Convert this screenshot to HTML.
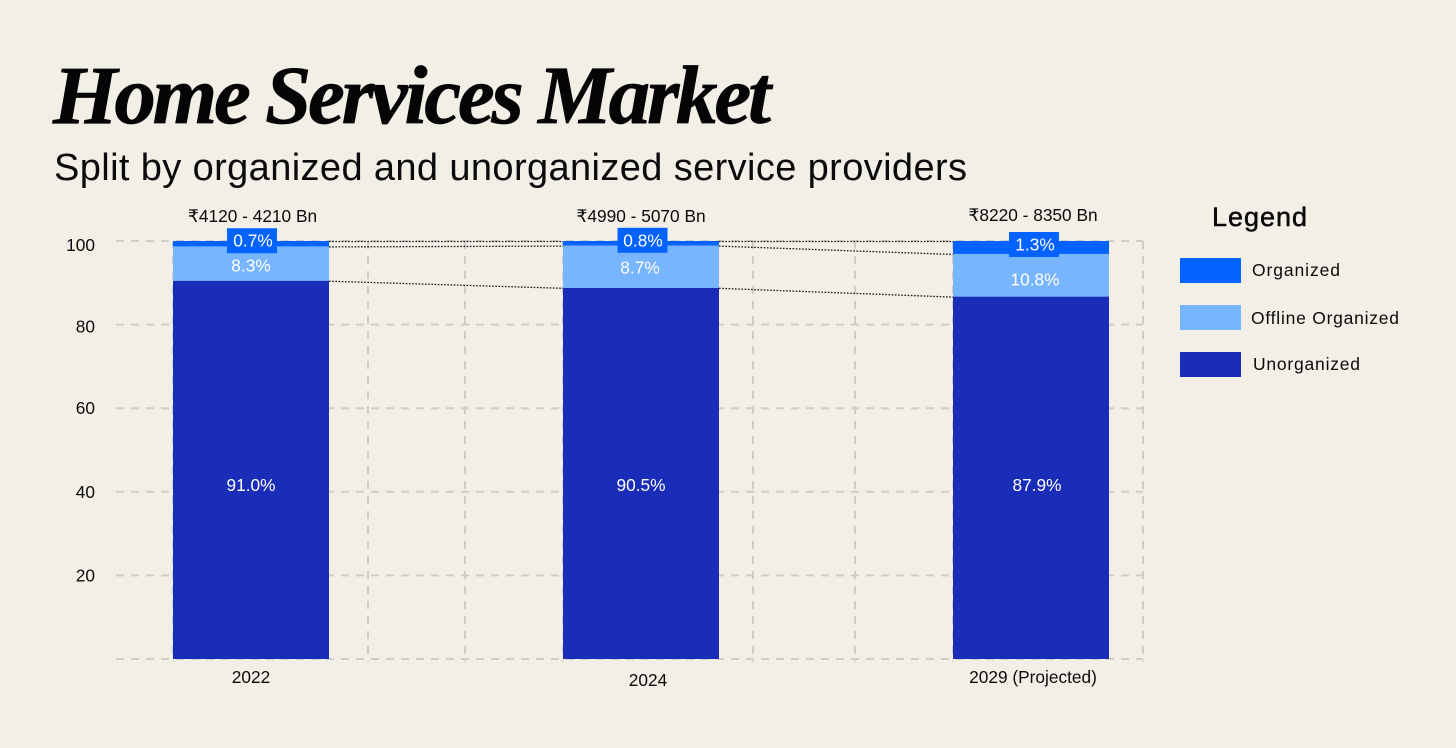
<!DOCTYPE html>
<html lang="en">
<head>
<meta charset="utf-8">
<title>Home Services Market</title>
<style>
  html, body { margin: 0; padding: 0; background: #f2efe7; }
  body { width: 1456px; height: 748px; overflow: hidden; }
  svg { display: block; }
  text { font-family: "Liberation Sans", "DejaVu Sans", sans-serif; fill: #0b0b0b; }
  .chart-title { font-family: "Liberation Serif", serif; font-style: italic; font-weight: 700; font-size: 83px; fill: #050505; stroke: #050505; stroke-width: .7px; }
  .chart-subtitle { font-size: 38px; }
  .small { font-size: 17.3px; }
  .legend-label { font-size: 17.5px; }
  .value { font-size: 17.3px; fill: #ffffff; text-anchor: middle; dominant-baseline: central; }
  .legend-title { font-size: 27px; stroke: #0b0b0b; stroke-width: .5px; }
  .grid { stroke: #cfcdc7; stroke-width: 2; stroke-dasharray: 8 7; fill: none; }
  .connector { stroke: #151515; stroke-width: 1.3; stroke-dasharray: 1.6 1.6; fill: none; }
</style>
</head>
<body>
<svg id="chart" width="1456" height="748" viewBox="0 0 1456 748" xmlns="http://www.w3.org/2000/svg">
  <rect x="0" y="0" width="1456" height="748" fill="#f2efe7"></rect>
  <text class="chart-title" x="53" y="123" textLength="718" lengthAdjust="spacing">Home Services Market</text>
  <text class="chart-subtitle" x="54" y="180" textLength="913" lengthAdjust="spacing">Split by organized and unorganized service providers</text>
  <g id="grid-layer"></g>
  <g id="connector-layer"></g>
  <g id="bar-layer"></g>
  <g id="label-layer"></g>

  <g>
    <text class="legend-title" x="1212" y="226" textLength="95" lengthAdjust="spacing">Legend</text>
    <g>
      <rect x="1180" y="258" width="61" height="25" fill="#0462ff"></rect>
      <text class="legend-label" x="1252" y="276" textLength="88" lengthAdjust="spacing">Organized</text>
    </g>
    <g>
      <rect x="1180" y="305" width="61" height="25" fill="#77b5ff"></rect>
      <text class="legend-label" x="1251" y="324" textLength="148" lengthAdjust="spacing">Offline Organized</text>
    </g>
    <g>
      <rect x="1180" y="352" width="61" height="25" fill="#1a2db8"></rect>
      <text class="legend-label" x="1253" y="370" textLength="107" lengthAdjust="spacing">Unorganized</text>
    </g>
  </g>
</svg>
<script>
// Chart data: segment heights, plus the printed labels.
const categories = ['2022', '2024', '2029 (Projected)'];
const unorganizedValues = [90.5, 88.8, 86.7];
const offlineValues = [8.2, 10.1, 10.2];
const organizedValues = [1.3, 1.1, 3.1];
const totalLabels = ['₹4120 - 4210 Bn', '₹4990 - 5070 Bn', '₹8220 - 8350 Bn'];
const unorganizedLabels = ['91.0%', '90.5%', '87.9%'];
const offlineLabels = ['8.3%', '8.7%', '10.8%'];
const organizedLabels = ['0.7%', '0.8%', '1.3%'];
const yTicks = [100, 80, 60, 40, 20];

// Axis functions
const PLOT_BOTTOM = 659;
const PLOT_TOP = 241;
function yScale(v) { return PLOT_BOTTOM - (v / 100) * (PLOT_BOTTOM - PLOT_TOP); }
const BAR_WIDTH = 156;
function xCenter(i) { return 251 + i * 390; }
function xLeft(i) { return xCenter(i) - BAR_WIDTH / 2; }
function xRight(i) { return xCenter(i) + BAR_WIDTH / 2; }

const NS = 'http://www.w3.org/2000/svg';
function make(tag, attrs, parent, content) {
  const el = document.createElementNS(NS, tag);
  for (const k in attrs) el.setAttribute(k, attrs[k]);
  if (content !== undefined) el.textContent = content;
  parent.appendChild(el);
  return el;
}

const gridLayer = document.getElementById('grid-layer');
const connectorLayer = document.getElementById('connector-layer');
const barLayer = document.getElementById('bar-layer');
const labelLayer = document.getElementById('label-layer');

// Horizontal gridlines
[100, 80, 60, 40, 20, 0].forEach(function (t) {
  const line = make('line', { x1: 116, x2: 1143, y1: yScale(t), y2: yScale(t), class: 'grid' }, gridLayer);
  
  
});

// Vertical gridlines
[173, 368, 465, 563, 753, 855, 953, 1143].forEach(function (x) {
  const line = make('line', { x1: x, x2: x, y1: PLOT_TOP, y2: PLOT_BOTTOM + 3, class: 'grid' }, gridLayer);
  
  
});

// Y tick labels (hand-placed offsets follow the reference's slight misalignment)
const tickNudge = [4, 2, 0, 0, 0];
yTicks.forEach(function (t, i) {
  const label = make('text', { x: 95, y: yScale(t) + 6 + tickNudge[i], 'text-anchor': 'end', class: 'small' }, labelLayer, String(t));
  
  
});

// Connectors between adjacent bars
for (let i = 0; i < categories.length - 1; i++) {
  const levels = [
    [unorganizedValues[i], unorganizedValues[i + 1]],
    [unorganizedValues[i] + offlineValues[i], unorganizedValues[i + 1] + offlineValues[i + 1]],
    [unorganizedValues[i] + offlineValues[i] + organizedValues[i], unorganizedValues[i + 1] + offlineValues[i + 1] + organizedValues[i + 1]]
  ];
  levels.forEach(function (pair) {
    const line = make('line', { x1: xRight(i), x2: xLeft(i + 1), y1: yScale(pair[0]) + 0.5, y2: yScale(pair[1]) + 0.5, class: 'connector' }, connectorLayer);
    
    
  });
}

// Stacked bars and labels (label nudges are layout only)
const categoryNudge = [0, 7, 2];
const categoryBaseline = [683, 686, 683];
const boxNudge = [1, 1.5, 3];
const organizedNudge = [2, 2, 4];
const offlineNudge = [0, -1, 4];
const unorganizedNudge = [0, 0, 6];
const offlineYNudge = [2, 1, 4];
const totalNudge = [1.5, 0, 2];
const totalBaseline = [222, 222, 221];
categories.forEach(function (cat, i) {
  const u = unorganizedValues[i], o = offlineValues[i], g = organizedValues[i];
  const yU = yScale(u), yO = yScale(u + o), yG = yScale(u + o + g);

  const barU = make('rect', { x: xLeft(i), y: yU, width: BAR_WIDTH, height: PLOT_BOTTOM - yU, fill: '#1a2db8' }, barLayer);
  
  

  const barO = make('rect', { x: xLeft(i), y: yO, width: BAR_WIDTH, height: yU - yO, fill: '#77b5ff' }, barLayer);
  
  

  const barG = make('rect', { x: xLeft(i), y: yG, width: BAR_WIDTH, height: yO - yG, fill: '#0462ff' }, barLayer);
  
  

  const boxMid = (yG + yO) / 2 - 3;
  const box = make('rect', { x: xCenter(i) - 25 + boxNudge[i], y: boxMid - 12.5, width: 50, height: 25, fill: '#0462ff' }, labelLayer);
  
  

  const orgText = make('text', { x: xCenter(i) + organizedNudge[i], y: boxMid, class: 'value' }, labelLayer, organizedLabels[i]);
  
  

  const offText = make('text', { x: xCenter(i) + offlineNudge[i], y: (yO + yU) / 2 + offlineYNudge[i], class: 'value' }, labelLayer, offlineLabels[i]);
  
  

  const unText = make('text', { x: xCenter(i) + unorganizedNudge[i], y: 485, class: 'value' }, labelLayer, unorganizedLabels[i]);
  
  

  const total = make('text', { x: xCenter(i) + totalNudge[i], y: totalBaseline[i], 'text-anchor': 'middle', class: 'small' }, labelLayer, totalLabels[i]);
  
  

  const catText = make('text', { x: xCenter(i) + categoryNudge[i], y: categoryBaseline[i], 'text-anchor': 'middle', class: 'small' }, labelLayer, cat);
  
  
});
</script>
</body>
</html>
